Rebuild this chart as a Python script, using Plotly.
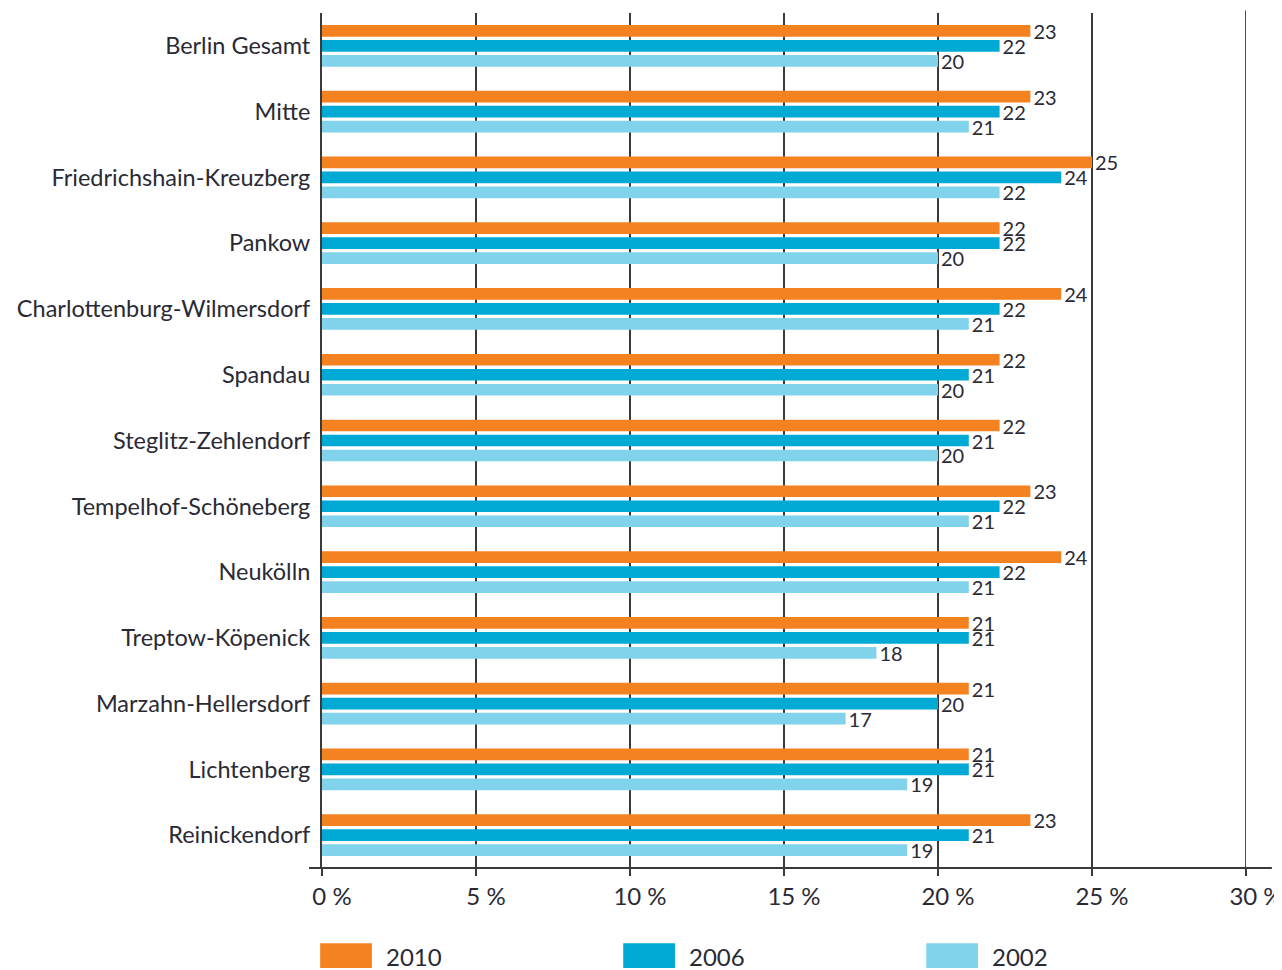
import plotly.graph_objects as go

districts = ["Berlin Gesamt", "Mitte", "Friedrichshain-Kreuzberg", "Pankow",
             "Charlottenburg-Wilmersdorf", "Spandau", "Steglitz-Zehlendorf",
             "Tempelhof-Schöneberg", "Neukölln", "Treptow-Köpenick",
             "Marzahn-Hellersdorf", "Lichtenberg", "Reinickendorf"]
v2010 = [23, 23, 25, 22, 24, 22, 22, 23, 24, 21, 21, 21, 23]
v2006 = [22, 22, 24, 22, 22, 21, 21, 22, 22, 21, 20, 21, 21]
v2002 = [20, 21, 22, 20, 21, 20, 20, 21, 21, 18, 17, 19, 19]
years = ["2010", "2006", "2002"]
colors = ["#F58220", "#00AAD5", "#80D3EA"]
xticks = [0, 5, 10, 15, 20, 25, 30]
xticklabels = ["0 %", "5 %", "10 %", "15 %", "20 %", "25 %", "30 %"]

FONT = "Lato"
TXT = "#2a2a35"
AX = "#3a3a3a"

fig = go.Figure()
for name, vals, col in zip(years, [v2010, v2006, v2002], colors):
    fig.add_trace(go.Bar(
        y=districts, x=vals, orientation="h", name=name,
        marker=dict(color=col, line=dict(width=0)),
        text=[str(v) for v in vals], textposition="outside",
        textfont=dict(family=FONT, size=20, color=TXT),
        cliponaxis=False, constraintext="none", showlegend=False,
    ))

shapes = []
# bottom axis line extending beyond plot area
shapes.append(dict(type="line", xref="paper", yref="paper", x0=-0.014, x1=1.028,
                   y0=0, y1=0, line=dict(color=AX, width=2)))
# gridline at the right edge of the range (plotly hides edge gridlines)
shapes.append(dict(type="line", xref="x", yref="paper", x0=xticks[-1], x1=xticks[-1],
                   y0=0, y1=1.003, line=dict(color=AX, width=1.8), layer="below"))
# custom legend
leg_x = [-0.002, 0.326, 0.654]
for i, (name, col) in enumerate(zip(years, colors)):
    x0 = leg_x[i]
    shapes.append(dict(type="rect", xref="paper", yref="paper",
                       x0=x0, x1=x0 + 0.056, y0=-0.117, y1=-0.088,
                       fillcolor=col, line=dict(width=0)))
annotations = []
for i, name in enumerate(years):
    annotations.append(dict(xref="paper", yref="paper", x=leg_x[i] + 0.069, y=-0.104,
                            text=name, showarrow=False, xanchor="left", yanchor="middle",
                            font=dict(family=FONT, size=24, color=TXT)))

fig.update_layout(
    width=1274, height=962,
    margin=dict(l=314, r=36, t=5, b=102, autoexpand=False),
    paper_bgcolor="white", plot_bgcolor="white",
    barmode="group", bargap=0.316, bargroupgap=0.22,
    font=dict(family=FONT, color=TXT),
    shapes=shapes, annotations=annotations,
    xaxis=dict(range=[0, 30], tickvals=xticks, ticktext=xticklabels,
               showgrid=True, gridcolor=AX, gridwidth=1.6,
               zeroline=False, showline=False, automargin=False,
               ticks="outside", ticklen=7, tickcolor=AX, tickwidth=1.6,
               ticklabelshift=10, ticklabelstandoff=0, ticklabeloverflow="allow",
               tickfont=dict(family=FONT, size=24, color=TXT)),
    yaxis=dict(range=[12.5, -0.5], showgrid=False, zeroline=False,
               showline=True, linecolor=AX, linewidth=2, automargin=False,
               ticks="", ticklabelstandoff=5,
               tickfont=dict(family=FONT, size=23.5, color=TXT)),
)

fig.write_html("out.html")
